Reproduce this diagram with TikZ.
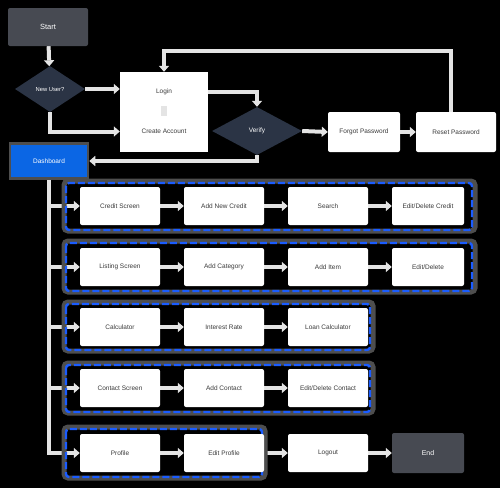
\documentclass[tikz,border=0pt]{standalone}
\usepackage{fontspec}
\setmainfont{Liberation Sans}
\usetikzlibrary{shapes.geometric,arrows.meta}
\definecolor{termc}{HTML}{474A52}
\definecolor{decc}{HTML}{2B3445}
\definecolor{dashc}{HTML}{0B66E4}
\definecolor{txtc}{HTML}{3A3A3A}
\definecolor{connc}{HTML}{E4E4E4}
\definecolor{grpgray}{HTML}{4E4E4E}
\definecolor{grpblue}{HTML}{1A5CFF}
\pgfdeclarelayer{back}
\pgfdeclarelayer{wires}
\pgfdeclarelayer{groups}
\pgfsetlayers{back,wires,groups,main}
\begin{document}
\begin{tikzpicture}[x=1pt,y=-1pt,
  box/.style={fill=white, rounded corners=2pt, minimum width=80pt, minimum height=38pt, inner sep=0pt, font=\fontsize{6.5}{7.5}\selectfont, text=txtc},
  term/.style={fill=termc, rounded corners=2pt, minimum width=80pt, minimum height=38pt, inner sep=0pt, text=white, font=\fontsize{7.5}{9}\selectfont},
  dec/.style={diamond, fill=decc, aspect=1.55, inner sep=0pt, minimum width=70pt, minimum height=46pt, text=white, font=\fontsize{5.8}{6.5}\selectfont},
  arrowc/.style={draw=connc, line width=4pt, -{Triangle[width=10pt,length=6pt]}},
  wire/.style={draw=connc, line width=4pt},
  grpo/.style={draw=grpgray, line width=5pt, rounded corners=4pt},
  grpi/.style={draw=grpblue, line width=2.4pt, dash pattern=on 7pt off 3pt, rounded corners=3pt}]
\begin{pgfonlayer}{back}
\fill[black] (0,0) rectangle (500,488);
\end{pgfonlayer}
\path[use as bounding box] (0,0) rectangle (500,488);

% top part
\node[term] (start) at (48,27) {Start};
\node[dec] (newuser) at (50,89) {New User?};
\node[box, minimum width=88pt, minimum height=39pt, rounded corners=0pt] (login) at (164,91.5) {Login};
\node[box, minimum width=88pt, minimum height=41pt, rounded corners=0pt] (create) at (164,131.5) {Create Account};
\node[dec, minimum width=90pt, minimum height=48pt, font=\fontsize{6.5}{7.5}\selectfont] (verify) at (257,131) {Verify};
\node[box, minimum width=72pt, minimum height=40pt] (forgot) at (364,132) {Forgot Password};
\node[box, minimum width=80pt, minimum height=40pt] (reset) at (456,132) {Reset Password};
\node[fill=dashc, draw=grpgray, line width=2.5pt, minimum width=78pt, minimum height=35pt, inner sep=0pt, text=white, font=\fontsize{6.5}{7.5}\selectfont] (dash) at (49,161) {Dashboard};

% rows
\node[box] (cs) at (120,206) {Credit Screen};
\node[box] (anc) at (224,206) {Add New Credit};
\node[box] (search) at (328,206) {Search};
\node[box, minimum width=72pt] (edc) at (428,206) {Edit/Delete Credit};

\node[box] (ls) at (120,267) {Listing Screen};
\node[box] (acat) at (224,267) {Add Category};
\node[box] (aitem) at (328,267) {Add Item};
\node[box, minimum width=72pt] (ed) at (428,267) {Edit/Delete};

\node[box] (calc) at (120,327) {Calculator};
\node[box] (ir) at (224,327) {Interest Rate};
\node[box] (lc) at (328,327) {Loan Calculator};

\node[box] (cts) at (120,388) {Contact Screen};
\node[box] (ac) at (224,388) {Add Contact};
\node[box] (edct) at (328,388) {Edit/Delete Contact};

\node[box] (prof) at (120,453) {Profile};
\node[box] (ep) at (224,453) {Edit Profile};
\node[box] (logout) at (328,453) {Logout};
\node[term, minimum width=72pt, minimum height=40pt, font=\fontsize{7}{8}\selectfont] (end) at (428,453) {End};

\coordinate (loopr) at (451,51);

% groups
\begin{pgfonlayer}{groups}
\foreach \a/\b/\c/\d in {66/183/472/230, 66/243/472/291, 66/304/370/350, 66/365/370/412, 66/429/262/477}{
  \draw[grpo] (\a-2,\b-2) rectangle (\c+3,\d+1);
  \draw[grpi] (\a,\b) rectangle (\c,\d);
}
\end{pgfonlayer}

% connectors
\begin{pgfonlayer}{wires}
\draw[arrowc] (start) -- (newuser);
\draw[arrowc] (newuser.east) -- (newuser.east -| login.west);
\draw[arrowc] (newuser.south) |- (create.west);
\draw[arrowc] (login.east) -| (verify.north);
\draw[arrowc] (verify.south) |- (dash.east);
\draw[arrowc] (verify.east) -- (forgot.west);
\draw[arrowc] (forgot) -- (reset);
\draw[arrowc] (reset.north -| loopr) -- (loopr) -| (login.north);

\foreach \n in {cs,ls,calc,cts,prof}{
  \draw[arrowc] (dash.south) |- (\n.west);
}
\draw[arrowc] (cs) -- (anc);
\draw[arrowc] (anc) -- (search);
\draw[arrowc] (search) -- (edc);
\draw[arrowc] (ls) -- (acat);
\draw[arrowc] (acat) -- (aitem);
\draw[arrowc] (aitem) -- (ed);
\draw[arrowc] (calc) -- (ir);
\draw[arrowc] (ir) -- (lc);
\draw[arrowc] (cts) -- (ac);
\draw[arrowc] (ac) -- (edct);
\draw[arrowc] (prof) -- (ep);
\draw[arrowc] (ep) -- (logout);
\draw[arrowc] (logout) -- (end);
\end{pgfonlayer}
\draw[draw=connc, line width=6pt] ([yshift=5pt]login.south) -- ([yshift=-5pt]create.north);
\end{tikzpicture}
\end{document}
